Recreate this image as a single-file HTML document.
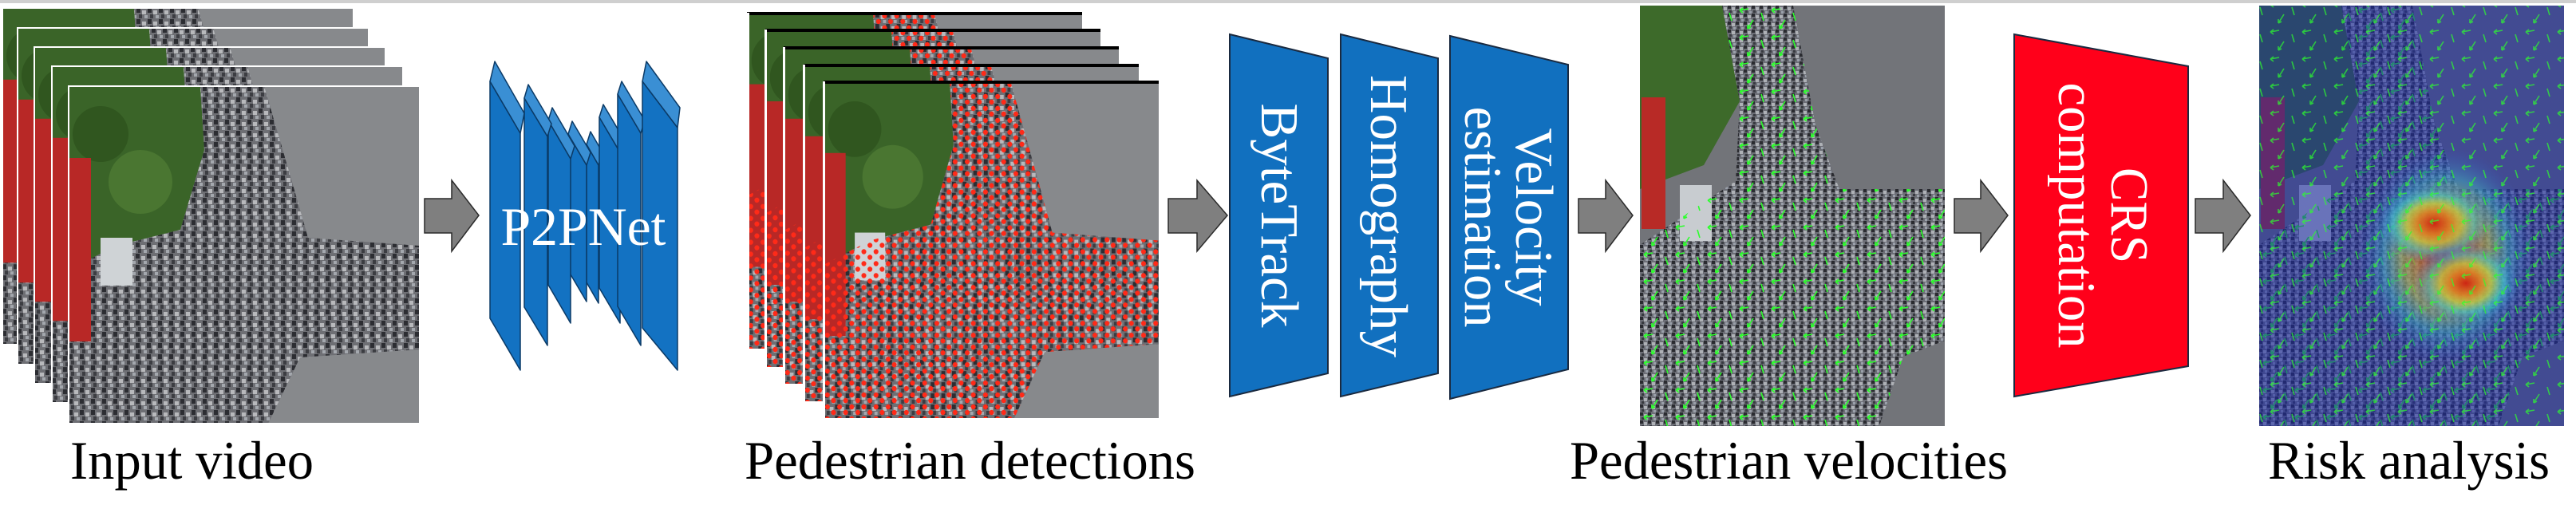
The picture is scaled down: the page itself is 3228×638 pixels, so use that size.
<!DOCTYPE html>
<html><head><meta charset="utf-8"><style>
html,body{margin:0;padding:0;background:#fff;}
svg{display:block;}
svg text{font-family:"Liberation Serif","Times New Roman",Times,"DejaVu Serif",serif !important;}
</style></head><body>
<svg width="3228" height="638" viewBox="0 0 3228 638" xmlns="http://www.w3.org/2000/svg">
<defs>
<pattern id="crowd" width="14" height="14" patternUnits="userSpaceOnUse">
<rect width="14" height="14" fill="#6e6f74"/>
<rect x="0" y="0" width="5" height="6" fill="#2c2d32"/>
<rect x="7" y="3" width="5" height="5" fill="#b8b9bc"/>
<rect x="3" y="8" width="4" height="5" fill="#3c3d42"/>
<rect x="10" y="9" width="4" height="4" fill="#a4a8ae"/>
</pattern>
<pattern id="crowd2" width="10" height="10" patternUnits="userSpaceOnUse">
<rect width="10" height="10" fill="#6c6e76"/>
<rect x="0" y="0" width="4" height="4" fill="#2a2b30"/>
<rect x="5" y="2" width="4" height="4" fill="#aeb1b6"/>
<rect x="2" y="6" width="3" height="3" fill="#383a40"/>
<rect x="7" y="7" width="3" height="3" fill="#9aa0aa"/>
</pattern>
<pattern id="dots" width="16" height="15" patternUnits="userSpaceOnUse">
<circle cx="4" cy="4" r="3.2" fill="#ff2a18"/>
<circle cx="12" cy="11" r="3.2" fill="#ff2a18"/>
</pattern>
<pattern id="arr" width="40" height="34" patternUnits="userSpaceOnUse">
<g stroke="#2cff2c" stroke-width="1.6" fill="none">
<path d="M16 4 L5 6 M5 6 l4 -3 M5 6 l4 3"/>
<path d="M22 18 L15 29 M15 29 l0 -5 M15 29 l4 -2"/>
<path d="M32 9 L35 19"/>
</g>
</pattern>
<radialGradient id="heat" cx="50%" cy="50%" r="50%">
<stop offset="0" stop-color="#d02010" stop-opacity="0.95"/>
<stop offset="0.3" stop-color="#e08020" stop-opacity="0.85"/>
<stop offset="0.5" stop-color="#c8d040" stop-opacity="0.7"/>
<stop offset="0.72" stop-color="#40d0d0" stop-opacity="0.5"/>
<stop offset="1" stop-color="#3060e0" stop-opacity="0"/>
</radialGradient>
<symbol id="scene" viewBox="0 0 440 423" preserveAspectRatio="none">
<rect width="440" height="423" fill="#87898c"/>
<polygon points="0,0 165,0 170,80 140,180 60,200 0,230" fill="#3a6428"/>
<circle cx="90" cy="120" r="40" fill="#4a7631"/>
<circle cx="40" cy="60" r="35" fill="#30561f"/>
<polygon points="165,0 245,0 280,120 300,190 440,200 440,330 290,340 250,423 0,423 0,230 60,200 140,180 170,80" fill="url(#crowd)"/>
<rect x="0" y="90" width="28" height="230" fill="#b82826"/>
<rect x="40" y="190" width="40" height="60" fill="#cfd3d6"/>
</symbol>
<symbol id="scene2" viewBox="0 0 440 423" preserveAspectRatio="none">
<use href="#scene" width="440" height="423"/>
<polygon points="165,0 245,0 280,120 300,190 440,200 440,330 290,340 250,423 0,423 0,230 60,200 140,180 170,80" fill="url(#dots)"/>
</symbol>
<symbol id="vel" viewBox="0 0 382 527" preserveAspectRatio="none">
<rect width="382" height="527" fill="#727479"/>
<polygon points="0,0 103,0 125,120 80,200 0,230" fill="#3d6a2a"/>
<polygon points="103,0 192,0 220,150 250,230 382,230 382,420 330,440 300,527 0,527 0,300 60,260 120,220 125,120" fill="url(#crowd2)"/>
<rect x="2" y="115" width="30" height="165" fill="#b82a26"/>
<rect x="50" y="225" width="40" height="70" fill="#c8ccd0"/>
<polygon points="103,0 192,0 220,150 250,230 382,230 382,420 330,440 300,527 0,527 0,300 60,260 120,220 125,120" fill="url(#arr)"/>
</symbol>
</defs>
<rect x="0" y="0" width="3228" height="4" fill="#cfcfcf"/>

<use href="#scene" x="3" y="10" width="440" height="422"/><rect x="3" y="10" width="440" height="422" fill="none" stroke="#fff" stroke-width="2"/>
<use href="#scene" x="22" y="35" width="440" height="422"/><rect x="22" y="35" width="440" height="422" fill="none" stroke="#fff" stroke-width="2"/>
<use href="#scene" x="43" y="59" width="440" height="422"/><rect x="43" y="59" width="440" height="422" fill="none" stroke="#fff" stroke-width="2"/>
<use href="#scene" x="65" y="83" width="440" height="422"/><rect x="65" y="83" width="440" height="422" fill="none" stroke="#fff" stroke-width="2"/>
<use href="#scene" x="86" y="108" width="440" height="423"/><rect x="86" y="108" width="440" height="423" fill="none" stroke="#fff" stroke-width="2"/>

<use href="#scene2" x="937" y="16" width="419" height="421"/>
<rect x="936" y="15" width="420" height="4" fill="#000"/><rect x="936" y="16" width="3" height="421" fill="#fff"/>
<use href="#scene2" x="960" y="37" width="419" height="423"/>
<rect x="959" y="36" width="420" height="4" fill="#000"/><rect x="958" y="37" width="3" height="423" fill="#fff"/>
<use href="#scene2" x="983" y="59" width="419" height="422"/>
<rect x="982" y="58" width="420" height="4" fill="#000"/><rect x="981" y="59" width="3" height="422" fill="#fff"/>
<use href="#scene2" x="1008" y="81" width="419" height="422"/>
<rect x="1007" y="80" width="420" height="4" fill="#000"/><rect x="1006" y="81" width="3" height="422" fill="#fff"/>
<use href="#scene2" x="1033" y="102" width="419" height="422"/>
<rect x="1032" y="101" width="420" height="4" fill="#000"/><rect x="1031" y="102" width="3" height="422" fill="#fff"/>

<g fill="#7f7f7f" stroke="#2a2a2a" stroke-width="1.5">
<polygon points="532,249 566,249 566,226 600,270 566,315 566,292 532,292"/>
<polygon points="1464,249 1500,249 1500,226 1538,270 1500,315 1500,292 1464,292"/>
<polygon points="1978,249 2012,249 2012,226 2046,270 2012,315 2012,292 1978,292"/>
<polygon points="2449,249 2482,249 2482,226 2516,270 2482,315 2482,292 2449,292"/>
<polygon points="2751,249 2786,249 2786,226 2820,270 2786,315 2786,292 2751,292"/>
</g>

<g stroke="#0b3a66" stroke-width="1.5" stroke-linejoin="round">
<polygon points="735,181 750,207 750,380 735,354" fill="#1372c2"/><polygon points="735,181 740,165 755,191 750,207" fill="#3a8fd4"/>
<polygon points="712,168 735,207 735,378 712,339" fill="#1372c2"/><polygon points="712,168 717,152 740,191 735,207" fill="#3a8fd4"/>
<polygon points="751,147 777,191 777,405 751,361" fill="#1372c2"/><polygon points="751,147 756,131 782,175 777,191" fill="#3a8fd4"/>
<polygon points="687,151 715,199 715,405 687,357" fill="#1372c2"/><polygon points="687,151 692,135 720,183 715,199" fill="#3a8fd4"/>
<polygon points="774,118 803,167 803,433 774,384" fill="#1372c2"/><polygon points="774,118 779,102 808,151 803,167" fill="#3a8fd4"/>
<polygon points="657,123 686,171 686,433 657,385" fill="#1372c2"/><polygon points="657,123 662,106 691,155 686,171" fill="#3a8fd4"/>
<polygon points="805,102 849,160 849,464 805,411" fill="#1372c2"/><polygon points="805,102 810,77 852,135 849,160" fill="#3a8fd4"/>
<polygon points="614,102 652,167 652,464 614,399" fill="#1372c2"/><polygon points="614,102 620,77 657,142 652,167" fill="#3a8fd4"/>
</g>
<text x="731" y="307" style="font-family:'Liberation Serif',serif;font-size:68px" fill="#fff" text-anchor="middle" textLength="207" lengthAdjust="spacingAndGlyphs">P2PNet</text>

<g fill="#1170bf" stroke="#1a2a40" stroke-width="2">
<polygon points="1541,43 1664,73 1664,468 1541,497"/>
<polygon points="1680,43 1802,73 1802,468 1680,497"/>
<polygon points="1817,45 1965,81 1965,463 1817,500"/>
</g>
<polygon points="2524,43 2742,83 2742,459 2524,497" fill="#ff001a" stroke="#1a2a40" stroke-width="2"/>
<g fill="#fff" text-anchor="middle" style="font-family:'Liberation Serif',serif;font-size:67px">
<text transform="translate(1581,270) rotate(90)" textLength="281" lengthAdjust="spacingAndGlyphs">ByteTrack</text>
<text transform="translate(1718,271) rotate(90)" textLength="354" lengthAdjust="spacingAndGlyphs">Homography</text>
<text transform="translate(1900,272) rotate(90)" textLength="223" lengthAdjust="spacingAndGlyphs">Velocity</text>
<text transform="translate(1836,272) rotate(90)" textLength="277" lengthAdjust="spacingAndGlyphs">estimation</text>
<text transform="translate(2646,270) rotate(90)" textLength="120" lengthAdjust="spacingAndGlyphs">CRS</text>
<text transform="translate(2580,270) rotate(90)" textLength="333" lengthAdjust="spacingAndGlyphs">computation</text>
</g>

<use href="#vel" x="2055" y="7" width="382" height="527"/>
<use href="#vel" x="2831" y="7" width="382" height="527"/>
<rect x="2831" y="7" width="382" height="527" fill="#1c2aa8" opacity="0.55"/>
<ellipse cx="3065" cy="320" rx="110" ry="135" fill="url(#heat)" opacity="0.75"/>
<ellipse cx="3050" cy="280" rx="70" ry="50" fill="url(#heat)"/>
<ellipse cx="3090" cy="355" rx="65" ry="50" fill="url(#heat)"/>
<rect x="2831" y="7" width="382" height="527" fill="url(#arr)" opacity="0.7"/>

<g fill="#000" style="font-family:'Liberation Serif',serif;font-size:68px">
<text x="88" y="600" textLength="305" lengthAdjust="spacingAndGlyphs">Input video</text>
<text x="933" y="600" textLength="565" lengthAdjust="spacingAndGlyphs">Pedestrian detections</text>
<text x="1967" y="600" textLength="549" lengthAdjust="spacingAndGlyphs">Pedestrian velocities</text>
<text x="2842" y="600" textLength="353" lengthAdjust="spacingAndGlyphs">Risk analysis</text>
</g>
</svg>
</body></html>
